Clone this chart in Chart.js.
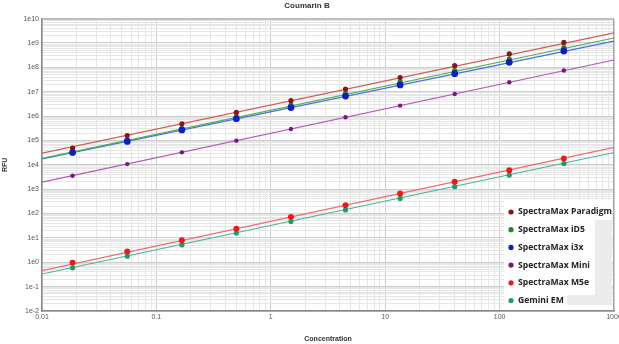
<!DOCTYPE html>
<html><head><meta charset="utf-8">
<script src="https://cdn.jsdelivr.net/npm/chart.js@4/dist/chart.umd.min.js"></script>
<style>html,body{margin:0;padding:0;background:#fff;overflow:hidden}#wrap{width:619px;height:344px;position:relative}</style>
</head><body><div id="wrap"><canvas id="c" width="619" height="344"></canvas></div>
<script>
// ---- data ----
const chartTitle = 'Coumarin B';
const xTitle = 'Concentration';
const yTitle = 'RFU';
const concentrations = [0.0185, 0.0556, 0.167, 0.5, 1.5, 4.5, 13.5, 40.5, 121.5, 364.5];
const seriesNames = ['SpectraMax Paradigm', 'SpectraMax iD5', 'SpectraMax i3x', 'SpectraMax Mini', 'SpectraMax M5e', 'Gemini EM'];
const paradigm = [4.9e4, 1.58e5, 4.8e5, 1.41e6, 4.27e6, 1.29e7, 3.8e7, 1.17e8, 3.55e8, 1.05e9];
const iD5 = [3.47e4, 1.05e5, 3.09e5, 9.3e5, 2.82e6, 8.5e6, 2.51e7, 7.4e7, 2.19e8, 6.46e8];
const i3x = [3.16e4, 9.1e4, 2.69e5, 7.8e5, 2.24e6, 6.6e6, 1.9e7, 5.5e7, 1.62e8, 4.68e8];
const mini = [3.55e3, 1.07e4, 3.24e4, 9.8e4, 2.95e5, 8.9e5, 2.69e6, 8.1e6, 2.45e7, 7.4e7];
const m5e = [0.95, 2.75, 8.1, 24, 72, 219, 661, 2000, 6030, 18200];
const geminiEM = [0.59, 1.78, 5.2, 15.8, 46.8, 141, 417, 1260, 3800, 11200];
// fitted trend lines, read at the ends of the x range
const trendX = [0.01, 1000];
const paradigmFit = [3.0e4, 2.6e9];
const iD5Fit = [1.85e4, 1.6e9];
const i3xFit = [1.75e4, 1.2e9];
const miniFit = [1.95e3, 2.0e8];
const m5eFit = [0.45, 5.2e4];
const geminiFit = [0.33, 3.2e4];
const xTickLabels = ['0.01', '0.1', '1', '10', '100', '1000'];
const yTickLabels = ['1e-2', '1e-1', '1e0', '1e1', '1e2', '1e3', '1e4', '1e5', '1e6', '1e7', '1e8', '1e9', '1e10'];

// ---- styling ----
const pointColors = ['#8b1414', '#1f8a24', '#0b1fc4', '#7d1580', '#e61c1c', '#1d9a72'];
const lineColors = ['#cf5e5a', '#4fae52', '#4a6ed6', '#b257b8', '#ef6a72', '#43b592'];
const pointSizes = [2.6, 2.6, 3.4, 2.2, 3.0, 2.6];
const seriesValues = [paradigm, iD5, i3x, mini, m5e, geminiEM];
const fitValues = [paradigmFit, iD5Fit, i3xFit, miniFit, m5eFit, geminiFit];

const datasets = [];
seriesValues.forEach((vals, i) => {
  datasets.push({
    type: 'scatter', label: seriesNames[i],
    data: concentrations.map((c, j) => ({x: c, y: vals[j]})),
    backgroundColor: pointColors[i], borderColor: pointColors[i],
    pointRadius: pointSizes[i], borderWidth: 0, showLine: false,
    order: i === 2 ? -1 : 0
  });
});
fitValues.forEach((vals, i) => {
  datasets.push({
    type: 'line', label: seriesNames[i] + ' fit',
    data: trendX.map((x, j) => ({x: x, y: vals[j]})),
    borderColor: lineColors[i], borderWidth: 1.2, pointRadius: 0, fill: false, order: 5
  });
});

function isPow10(v) { const l = Math.log10(v); return Math.abs(l - Math.round(l)) < 1e-6; }
function logTicks(e0, e1) {
  const t = [];
  for (let e = e0; e < e1; e++) for (let k = 1; k < 10; k++) t.push({value: k * Math.pow(10, e)});
  t.push({value: Math.pow(10, e1)});
  return t;
}
const gridColor = (ctx) => (ctx.tick && isPow10(ctx.tick.value)) ? '#cdcdcd' : '#e6e6e6';

const framePlugin = {
  id: 'frame',
  beforeDatasetsDraw(chart) {
    const {ctx, chartArea: a} = chart;
    ctx.save(); ctx.strokeStyle = '#a5a5a5'; ctx.lineWidth = 1;
    ctx.beginPath(); ctx.moveTo(a.left, a.top + 0.5); ctx.lineTo(a.right - 0.5, a.top + 0.5); ctx.lineTo(a.right - 0.5, a.bottom); ctx.stroke();
    ctx.restore();
  }
};
const legendPlugin = {
  id: 'insetLegend',
  afterDraw(chart) {
    const {ctx, chartArea: a} = chart;
    const x0 = a.right - 110, y0 = a.bottom - 111;
    ctx.save();
    ctx.fillStyle = '#ffffff'; ctx.fillRect(x0, y0, 108, 110);
    ctx.fillStyle = '#ececec'; ctx.fillRect(a.right - 19, y0 + 20, 17, 85); ctx.fillRect(a.right - 47, y0 + 95, 45, 10);
    ctx.font = 'bold 8.6px "Open Sans", "Liberation Sans", sans-serif';
    ctx.textBaseline = 'middle'; ctx.textAlign = 'left';
    seriesNames.forEach((n, i) => {
      const y = y0 + 12 + i * 17.7;
      ctx.fillStyle = pointColors[i]; ctx.beginPath(); ctx.arc(x0 + 7, y, 2.6, 0, Math.PI * 2); ctx.fill();
      ctx.fillStyle = '#222222'; ctx.fillText(n, x0 + 14, y);
    });
    ctx.restore();
  }
};

new Chart(document.getElementById('c'), {
  type: 'scatter',
  data: {datasets},
  plugins: [framePlugin, legendPlugin],
  options: {
    responsive: false, animation: false, devicePixelRatio: 1,
    layout: {padding: {left: 0, right: 5, top: 0, bottom: 0}},
    plugins: {
      legend: {display: false}, tooltip: {enabled: false},
      title: {display: true, text: chartTitle, color: '#333', font: {family: '"Liberation Sans", Arial, sans-serif', size: 8, weight: 'bold'}, padding: {top: 1, bottom: 8}}
    },
    scales: {
      x: {
        type: 'logarithmic', min: 0.01, max: 1000,
        afterBuildTicks: (s) => { s.ticks = logTicks(-2, 3); },
        afterFit: (s) => { s.paddingLeft = 0; s.paddingRight = 0; s.height = 33; },
        ticks: {autoSkip: false, maxRotation: 0, padding: 2, color: '#555', font: {family: '"Liberation Sans", Arial, sans-serif', size: 7},
          callback: (v) => isPow10(v) ? xTickLabels[Math.round(Math.log10(v)) + 2] : ''},
        grid: {color: gridColor, drawTicks: false, lineWidth: 1},
        border: {color: '#8a8a8a', width: 1.5},
        title: {display: true, text: xTitle, color: '#333', font: {family: '"Liberation Sans", Arial, sans-serif', size: 7, weight: 'bold'}, padding: {top: 0, bottom: 1}}
      },
      y: {
        type: 'logarithmic', min: 0.01, max: 1e10,
        afterBuildTicks: (s) => { s.ticks = logTicks(-2, 10); },
        afterFit: (s) => { s.width = 42; },
        ticks: {autoSkip: false, padding: 3, color: '#555', font: {family: '"Liberation Sans", Arial, sans-serif', size: 7},
          callback: (v) => isPow10(v) ? yTickLabels[Math.round(Math.log10(v)) + 2] : ''},
        grid: {color: gridColor, drawTicks: false, lineWidth: 1},
        border: {color: '#8a8a8a', width: 1.5},
        title: {display: true, text: yTitle, color: '#333', font: {family: '"Liberation Sans", Arial, sans-serif', size: 7, weight: 'bold'}, padding: {top: 1, bottom: 0}}
      }
    }
  }
});
</script></body></html>
